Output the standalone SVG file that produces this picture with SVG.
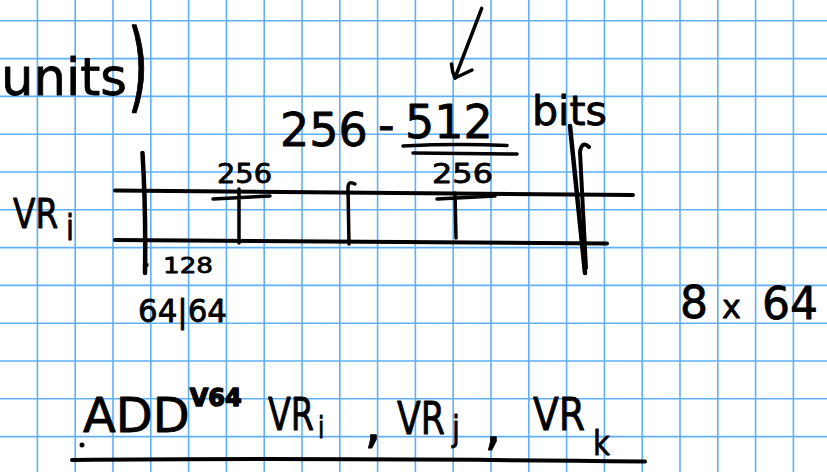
<svg xmlns="http://www.w3.org/2000/svg" width="827" height="472" viewBox="0 0 827 472">
  <style>
    .grid { stroke: #5fb0f6; stroke-width: 1.6; fill: none; }
    .ink { stroke: #000; fill: none; stroke-linecap: round; stroke-linejoin: round; }
    .t { font-family: "DejaVu Sans", "Liberation Sans", sans-serif; fill: #000; stroke: #000; stroke-width: 0.8; stroke-linejoin: round; }
  </style>
  <rect width="827" height="472" fill="#fff"/>

  <!-- squared paper -->
  <g id="grid" class="grid">
    <path d="M37.4,0V472M75.2,0V472M113,0V472M150.8,0V472M188.6,0V472M226.4,0V472M264.2,0V472M302,0V472M339.8,0V472M377.6,0V472M415.4,0V472M453.2,0V472M491,0V472M528.8,0V472M566.6,0V472M604.4,0V472M642.2,0V472M680,0V472M717.8,0V472M755.6,0V472M793.4,0V472"/>
    <path d="M0,20.8H827M0,58.6H827M0,96.4H827M0,134.2H827M0,172H827M0,209.8H827M0,247.6H827M0,285.4H827M0,323.2H827M0,361H827M0,398.8H827M0,436.6H827"/>
  </g>

  <!-- heading fragment -->
  <g id="units">
    <text class="t" x="1" y="95" font-size="52" textLength="126" lengthAdjust="spacingAndGlyphs">units</text>
    <text class="t" transform="translate(128,100) scale(1,1.9)" x="0" y="0" font-size="52" stroke-width="0.3">)</text>
  </g>

  <!-- width annotation with pointer -->
  <g id="width-label">
    <text class="t" font-size="46"><tspan x="280" y="146">256</tspan><tspan x="378" y="141">-</tspan><tspan x="405" y="138">512</tspan></text>
    <path class="ink" stroke-width="3.5" d="M403,146 Q455,143.5 507,145.5"/>
    <path class="ink" stroke-width="3.5" d="M413,153 L517,154"/>
    <text class="t" x="532" y="125" font-size="40" textLength="75" lengthAdjust="spacingAndGlyphs">bits</text>
  </g>
  <g id="connectors">
    <path class="ink" stroke-width="3.5" d="M481.7,8.3 L455,78"/>
    <path class="ink" stroke-width="3.5" d="M451.5,64 Q452,72 455,78 L472,70"/>
  </g>

  <!-- vector register VR_i -->
  <g id="register">
    <text class="t" transform="translate(13,228) scale(0.8,1)" font-size="41">VR<tspan dx="9.7" dy="12" font-size="36">i</tspan></text>
    <path class="ink" stroke-width="4" d="M115,190.5 L633,195"/>
    <path class="ink" stroke-width="4" d="M115,240 L607,243.5"/>
    <path class="ink" stroke-width="4.5" d="M142.5,153 Q146,210 145,273"/>
    <circle cx="146.5" cy="265" r="2.2"/>
    <path class="ink" stroke-width="3.5" d="M213,199 L270,196 M239,189 L239,243"/>
    <path class="ink" stroke-width="3.5" d="M355,184 Q348,180 348,188 L349,244"/>
    <path class="ink" stroke-width="3.5" d="M437,199 L495,196 M455,193 L456,238"/>
    <path class="ink" stroke-width="4.5" d="M570,126 L585,273"/>
    <path class="ink" stroke-width="4" d="M580,152 Q582,140 589,147 M580,152 L586,268"/>
    <text class="t" x="217" y="183" font-size="26" textLength="55" lengthAdjust="spacingAndGlyphs">256</text>
    <text class="t" x="432" y="183" font-size="26" textLength="61" lengthAdjust="spacingAndGlyphs">256</text>
    <text class="t" x="163" y="273" font-size="22" textLength="50" lengthAdjust="spacingAndGlyphs">128</text>
    <text class="t" x="138" y="322" font-size="32" textLength="89" lengthAdjust="spacingAndGlyphs">64|64</text>
  </g>

  <g id="lanes">
    <text class="t" font-size="44"><tspan x="680" y="318">8</tspan><tspan x="722" y="318" font-size="32">x</tspan><tspan x="762" y="319">64</tspan></text>
  </g>

  <!-- instruction -->
  <g id="instruction">
    <text class="t" x="83" y="432" font-size="48">ADD<tspan dx="0" dy="-26" font-size="24" font-weight="bold" stroke-width="1.5">V64</tspan></text>
    <text class="t" transform="translate(268,430) scale(0.76,1)" font-size="44">VR<tspan dx="5" dy="8" font-size="30">i</tspan></text>
    <text class="t" x="364" y="442" font-size="56">,</text>
    <text class="t" transform="translate(397,434) scale(0.79,1)" font-size="44">VR<tspan dx="9" dy="7" font-size="36">j</tspan></text>
    <text class="t" x="484" y="444" font-size="56">,</text>
    <text class="t" transform="translate(533,430) scale(0.86,1)" font-size="44">VR<tspan dx="9" dy="25" font-size="34">k</tspan></text>
    <circle cx="82" cy="445" r="2.5"/>
    <path class="ink" stroke-width="4" d="M72,460 Q300,457.5 645,461.5"/>
  </g>
</svg>
